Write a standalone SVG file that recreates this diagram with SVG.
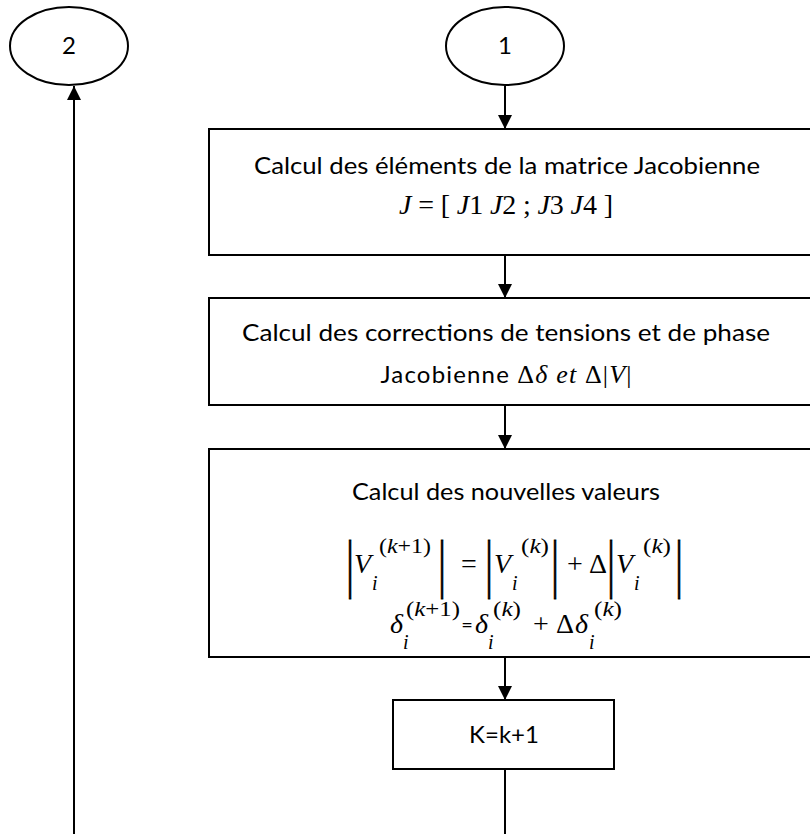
<svg xmlns="http://www.w3.org/2000/svg" width="810" height="834" viewBox="0 0 810 834">
<style>
.s{fill:none;stroke:#000;stroke-width:2}
.t{font-family:Lato,"Liberation Sans",sans-serif;font-size:24px;fill:#000}
.c{text-anchor:middle}
.m{font-family:"Liberation Serif",serif;font-size:28px;fill:#000}
.sc{font-family:"Liberation Serif",serif;font-size:20px;fill:#000}
.i{font-style:italic}
.b{font-family:"DejaVu Sans",sans-serif;font-size:24px;fill:#000;stroke:#000;stroke-width:0.4;text-anchor:middle}
</style>
<defs>
<marker id="ah" markerUnits="userSpaceOnUse" markerWidth="14" markerHeight="14" refX="14" refY="7" orient="auto">
<path d="M0,0 L14,7 L0,14 Z" fill="#000"/>
</marker>
</defs>
<rect width="810" height="834" fill="#fff"/>
<g id="connectors" class="s">
<line x1="505" y1="86" x2="505" y2="129" marker-end="url(#ah)"/>
<line x1="505" y1="255" x2="505" y2="298" marker-end="url(#ah)"/>
<line x1="505" y1="405" x2="505" y2="449" marker-end="url(#ah)"/>
<line x1="505" y1="657" x2="505" y2="700" marker-end="url(#ah)"/>
<line x1="505" y1="769" x2="505" y2="834"/>
<line x1="74" y1="834" x2="74" y2="86" marker-end="url(#ah)"/>
</g>
<g id="node-2">
<ellipse class="s" cx="69" cy="46" rx="59" ry="39"/>
<text class="t c" x="69" y="54">2</text>
</g>
<g id="node-1">
<ellipse class="s" cx="505" cy="46" rx="59" ry="39"/>
<text class="t c" x="505" y="54">1</text>
</g>
<g id="node-jacobian">
<rect class="s" x="209" y="129" width="610" height="126"/>
<text class="t c" x="507" y="174" textLength="506" lengthAdjust="spacingAndGlyphs">Calcul des éléments de la matrice Jacobienne</text>
<text class="m c" x="506" y="214" textLength="214" lengthAdjust="spacing"><tspan class="i">J</tspan> = [ <tspan class="i">J</tspan>1 <tspan class="i">J</tspan>2 ; <tspan class="i">J</tspan>3 <tspan class="i">J</tspan>4 ]</text>
</g>
<g id="node-corrections">
<rect class="s" x="209" y="298" width="610" height="107"/>
<text class="t c" x="506" y="341" textLength="528" lengthAdjust="spacingAndGlyphs">Calcul des corrections de tensions et de phase</text>
<text class="t c" x="506" y="383" textLength="251" lengthAdjust="spacing">Jacobienne <tspan class="m" style="font-size:26px">Δ</tspan><tspan class="m i" style="font-size:26px">δ et </tspan><tspan class="m" style="font-size:26px">Δ|</tspan><tspan class="m i" style="font-size:26px">V</tspan><tspan class="m" style="font-size:26px">|</tspan></text>
</g>
<g id="node-update">
<rect class="s" x="209" y="449" width="610" height="208"/>
<text class="t c" x="506" y="500" textLength="308" lengthAdjust="spacingAndGlyphs">Calcul des nouvelles valeurs</text>
<text class="b" transform="translate(350,585) scale(1,2.45)">|</text>
<text class="m i" x="354" y="573">V</text>
<text class="sc i" x="372" y="590">i</text>
<text class="sc" x="379" y="553" textLength="52" lengthAdjust="spacingAndGlyphs">(<tspan class="i">k</tspan>+1)</text>
<text class="b" transform="translate(442,585) scale(1,2.45)">|</text>
<text class="m c" x="469" y="573">=</text>
<text class="b" transform="translate(489,585) scale(1,2.45)">|</text>
<text class="m i" x="494" y="573">V</text>
<text class="sc i" x="512" y="590">i</text>
<text class="sc" x="521" y="553" textLength="28" lengthAdjust="spacingAndGlyphs">(<tspan class="i">k</tspan>)</text>
<text class="b" transform="translate(555,585) scale(1,2.45)">|</text>
<text class="m c" x="575" y="573">+</text>
<text class="m c" x="598" y="573">Δ</text>
<text class="b" transform="translate(611,585) scale(1,2.45)">|</text>
<text class="m i" x="616" y="573">V</text>
<text class="sc i" x="634" y="590">i</text>
<text class="sc" x="643" y="553" textLength="28" lengthAdjust="spacingAndGlyphs">(<tspan class="i">k</tspan>)</text>
<text class="b" transform="translate(679,585) scale(1,2.45)">|</text>
<text class="m i" x="390" y="633">δ</text>
<text class="sc i" x="403" y="649">i</text>
<text class="sc" x="406" y="616" textLength="54" lengthAdjust="spacingAndGlyphs">(<tspan class="i">k</tspan>+1)</text>
<text class="t c" x="467" y="632" style="font-size:20px">=</text>
<text class="m i" x="475" y="633">δ</text>
<text class="sc i" x="488" y="649">i</text>
<text class="sc" x="493" y="616" textLength="28" lengthAdjust="spacingAndGlyphs">(<tspan class="i">k</tspan>)</text>
<text class="m c" x="541" y="633">+</text>
<text class="m" x="556" y="633">Δ</text>
<text class="m i" x="575" y="633">δ</text>
<text class="sc i" x="589" y="649">i</text>
<text class="sc" x="594" y="616" textLength="28" lengthAdjust="spacingAndGlyphs">(<tspan class="i">k</tspan>)</text>
</g>
<g id="node-increment">
<rect class="s" x="393" y="700" width="221" height="69"/>
<text class="t c" x="504" y="743">K=k+1</text>
</g>
</svg>
